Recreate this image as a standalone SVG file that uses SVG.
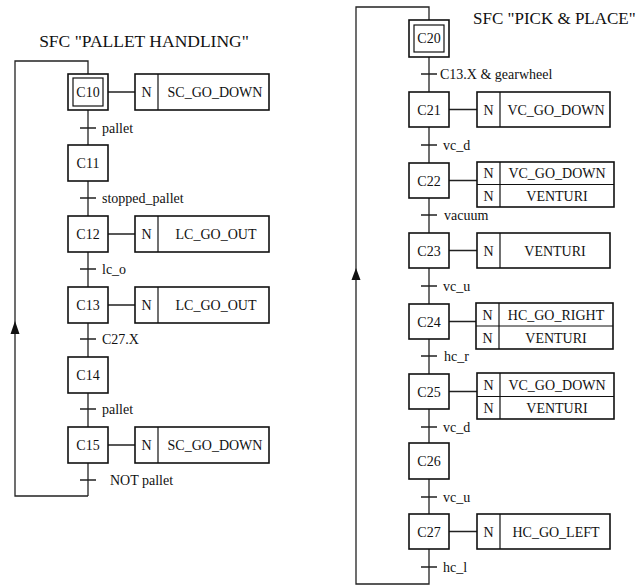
<svg xmlns="http://www.w3.org/2000/svg" width="640" height="585" viewBox="0 0 640 585">
<style>
.bx{fill:#fff;stroke:#111;stroke-width:1.6}
.in{fill:none;stroke:#111;stroke-width:1.2}
.ln{fill:none;stroke:#222;stroke-width:1.3}
text{font-family:"Liberation Serif","Times New Roman",serif;fill:#111;font-size:14px}
.c{text-anchor:middle}
.t{font-size:17.5px}
</style>
<rect width="640" height="585" fill="#fff"/>
<text class="t c" x="144" y="47">SFC "PALLET HANDLING"</text>
<text class="t" x="473" y="24" style="font-size:17px">SFC "PICK &amp; PLACE"</text>
<g id="connectors">
<path class="ln" d="M88,74 V463 M88,496 H15 V61 H88 V74"/>
<path d="M15,321 L10.5,334 L19.5,334 Z" fill="#111"/>
<path class="ln" d="M80,128 H96 M80,198 H96 M80,269 H96 M80,339 H96 M80,409 H96 M80,480 H96"/>
<path class="ln" d="M88,463 V496"/>
<path class="ln" d="M108,92 H135 M108,234 H135 M108,305 H135 M108,445 H135"/>
<path class="ln" d="M429,21 V584 H356 V7 H429 V21"/>
<path d="M356,268 L351.5,280 L360.5,280 Z" fill="#111"/>
<path class="ln" d="M421,74 H437 M421,145 H437 M421,215 H437 M421,286 H437 M421,356 H437 M421,427 H437 M421,497 H437 M421,567 H437"/>
<path class="ln" d="M449,109.5 H477 M449,180.5 H477 M449,250.5 H477 M449,321.5 H477 M449,391.5 H477 M449,531.5 H477"/>
<text x="102" y="132.5">pallet</text>
<text x="102" y="202.5">stopped_pallet</text>
<text x="102" y="273.5">lc_o</text>
<text x="102" y="343.5">C27.X</text>
<text x="102" y="413.5">pallet</text>
<text x="110" y="484.5">NOT pallet</text>
<text x="440" y="78.5">C13.X &amp; gearwheel</text>
<text x="443" y="149.5">vc_d</text>
<text x="444" y="219.5">vacuum</text>
<text x="443" y="290.5">vc_u</text>
<text x="444" y="360.5">hc_r</text>
<text x="443" y="431.5">vc_d</text>
<text x="443" y="501.5">vc_u</text>
<text x="443" y="571.5">hc_l</text>
</g>
<g id="C10"><rect class="bx" x="68" y="74" width="40" height="36"/><rect class="in" x="73" y="78" width="30" height="28"/><text class="c" x="88" y="97">C10</text></g>
<g id="A10"><rect class="bx" x="135" y="74" width="134" height="36"/><path class="in" d="M158,74 V110"/><text class="c" x="146.5" y="97">N</text><text class="c" x="215" y="97">SC_GO_DOWN</text></g>
<g id="C11"><rect class="bx" x="68" y="145" width="40" height="36"/><text class="c" x="88" y="168">C11</text></g>
<g id="C12"><rect class="bx" x="68" y="216" width="40" height="36"/><text class="c" x="88" y="239">C12</text></g>
<g id="A12"><rect class="bx" x="135" y="216" width="134" height="36"/><path class="in" d="M158,216 V252"/><text class="c" x="146.5" y="239">N</text><text class="c" x="216" y="239">LC_GO_OUT</text></g>
<g id="C13"><rect class="bx" x="68" y="287" width="40" height="36"/><text class="c" x="88" y="310">C13</text></g>
<g id="A13"><rect class="bx" x="135" y="287" width="134" height="36"/><path class="in" d="M158,287 V323"/><text class="c" x="146.5" y="310">N</text><text class="c" x="216" y="310">LC_GO_OUT</text></g>
<g id="C14"><rect class="bx" x="68" y="357" width="40" height="36"/><text class="c" x="88" y="380">C14</text></g>
<g id="C15"><rect class="bx" x="68" y="427" width="40" height="36"/><text class="c" x="88" y="450">C15</text></g>
<g id="A15"><rect class="bx" x="135" y="427" width="134" height="36"/><path class="in" d="M158,427 V463"/><text class="c" x="146.5" y="450">N</text><text class="c" x="215" y="450">SC_GO_DOWN</text></g>
<g id="C20"><rect class="bx" x="409" y="20" width="40" height="37"/><rect class="in" x="414" y="25" width="30" height="27"/><text class="c" x="429" y="43">C20</text></g>
<g id="C21"><rect class="bx" x="409" y="92" width="40" height="35"/><text class="c" x="429" y="114.5">C21</text></g>
<g id="A21"><rect class="bx" x="477" y="92" width="133" height="35"/><path class="in" d="M500,92 V127"/><text class="c" x="488.5" y="114.5">N</text><text class="c" x="556" y="114.5">VC_GO_DOWN</text></g>
<g id="C22"><rect class="bx" x="409" y="163" width="40" height="35"/><text class="c" x="429" y="185.5">C22</text></g>
<g id="A22"><rect class="bx" x="477" y="162" width="137" height="45"/><path class="in" d="M500,162 V207 M477,184.5 H614"/><text class="c" x="488.5" y="178">N</text><text class="c" x="557" y="178">VC_GO_DOWN</text><text class="c" x="488.5" y="201">N</text><text class="c" x="557" y="201">VENTURI</text></g>
<g id="C23"><rect class="bx" x="409" y="233" width="40" height="35"/><text class="c" x="429" y="255.5">C23</text></g>
<g id="A23"><rect class="bx" x="477" y="233" width="133" height="35"/><path class="in" d="M500,233 V268"/><text class="c" x="488.5" y="255.5">N</text><text class="c" x="555" y="255.5">VENTURI</text></g>
<g id="C24"><rect class="bx" x="409" y="304" width="40" height="35"/><text class="c" x="429" y="326.5">C24</text></g>
<g id="A24"><rect class="bx" x="476" y="303" width="137" height="46"/><path class="in" d="M499,303 V349 M476,326 H613"/><text class="c" x="487.5" y="319.5">N</text><text class="c" x="556" y="319.5">HC_GO_RIGHT</text><text class="c" x="487.5" y="343">N</text><text class="c" x="556" y="343">VENTURI</text></g>
<g id="C25"><rect class="bx" x="409" y="374" width="40" height="35"/><text class="c" x="429" y="396.5">C25</text></g>
<g id="A25"><rect class="bx" x="477" y="373" width="137" height="46"/><path class="in" d="M500,373 V419 M477,396.5 H614"/><text class="c" x="488.5" y="390">N</text><text class="c" x="557" y="390">VC_GO_DOWN</text><text class="c" x="488.5" y="413">N</text><text class="c" x="557" y="413">VENTURI</text></g>
<g id="C26"><rect class="bx" x="409" y="443" width="40" height="36"/><text class="c" x="429" y="466">C26</text></g>
<g id="C27"><rect class="bx" x="409" y="514" width="40" height="35"/><text class="c" x="429" y="536.5">C27</text></g>
<g id="A27"><rect class="bx" x="477" y="514" width="133" height="35"/><path class="in" d="M500,514 V549"/><text class="c" x="488.5" y="536.5">N</text><text class="c" x="556" y="536.5">HC_GO_LEFT</text></g>
</svg>
